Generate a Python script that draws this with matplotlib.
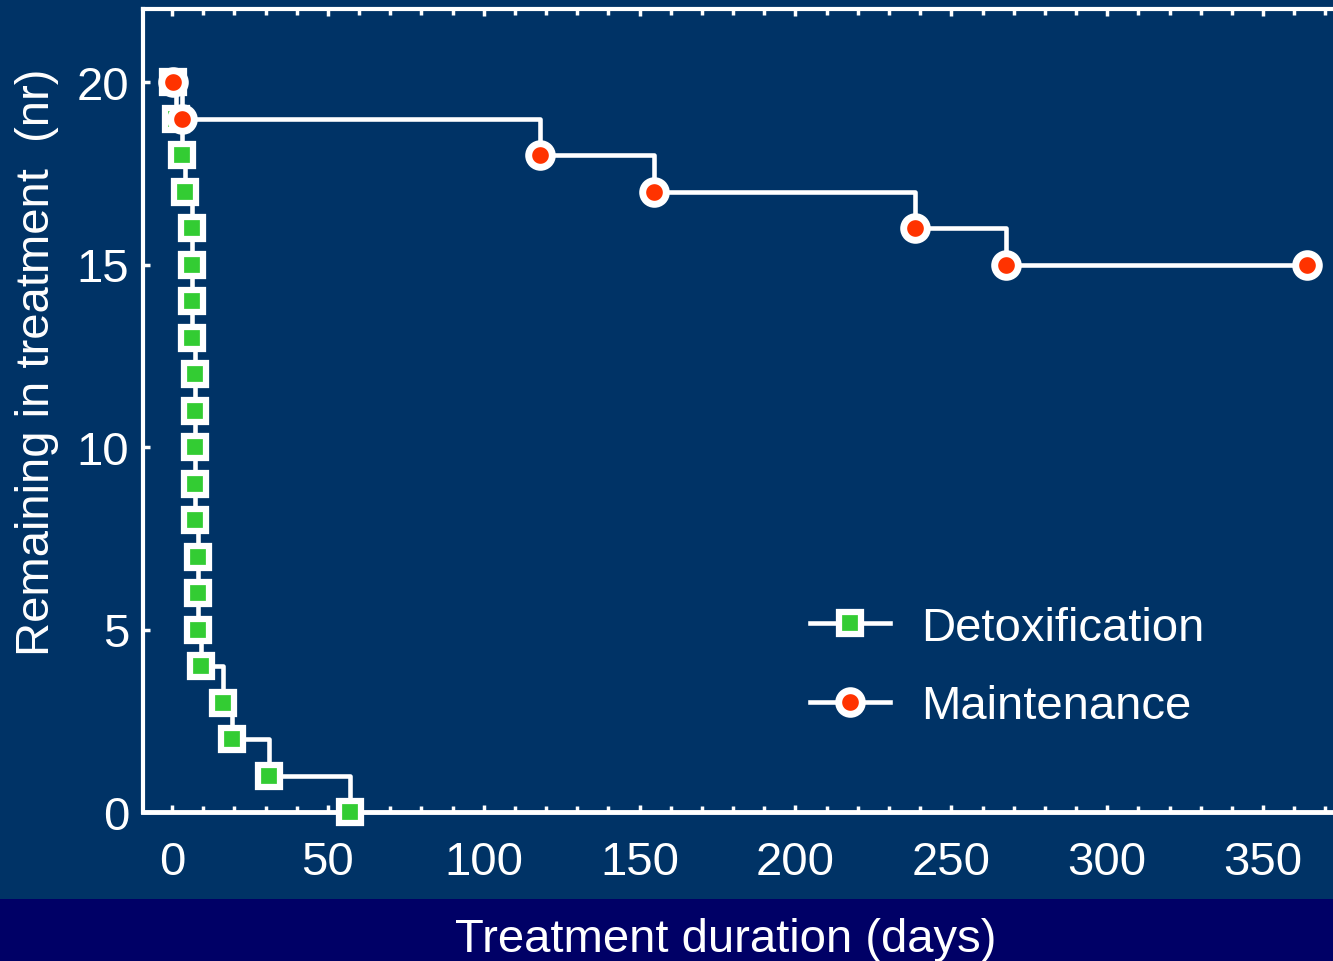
import matplotlib
matplotlib.use("Agg")
import matplotlib.pyplot as plt
from matplotlib.ticker import MultipleLocator
from matplotlib.patches import Rectangle

# ---- data ----
detox_days = [0.2, 1.2, 3.2, 4.2, 6.3, 6.3, 6.3, 6.3, 7.4, 7.4, 7.4, 7.4, 7.4,
              8.2, 8.2, 8.2, 9.2, 16.3, 19.2, 31.1, 57.1]
detox_remaining = [20, 19, 18, 17, 16, 15, 14, 13, 12, 11, 10, 9, 8,
                   7, 6, 5, 4, 3, 2, 1, 0]
maint_days = [0.2, 3.3, 118, 154.6, 238.4, 267.6, 364.1]
maint_remaining = [20, 19, 18, 17, 16, 15, 15]
x_ticks = [0, 50, 100, 150, 200, 250, 300, 350]
y_ticks = [0, 5, 10, 15, 20]
series_labels = ["Detoxification", "Maintenance"]

BG = "#003366"
BAND = "#000066"
GREEN = "#33CC33"
RED = "#FF3300"
W = 1333
H = 962

plt.rcParams['font.family'] = ['Liberation Sans', 'DejaVu Sans']

fig = plt.figure(figsize=(W / 100, H / 100), dpi=100)
fig.patch.set_facecolor(BG)
fig.patches.append(Rectangle((0, 0), 1, 62 / H, transform=fig.transFigure,
                             facecolor=BAND, edgecolor='none', zorder=0))

ax_left = 143 / W
ax_bottom = (H - 813) / H
ax_w = (1341 - 143) / W
ax_h = (813 - 10) / H
ax = fig.add_axes([ax_left, ax_bottom, ax_w, ax_h])
ax.set_facecolor(BG)
ax.set_xlim(-9.3, 375)
ax.set_ylim(0, 22)

ax.plot(detox_days, detox_remaining, drawstyle='steps-post', color='white', lw=3.3,
        marker='s', ms=16.5, mew=4.5, mfc=GREEN, mec='white', clip_on=False, zorder=3,
        label=series_labels[0])
ax.plot(maint_days, maint_remaining, drawstyle='steps-post', color='white', lw=3.3,
        marker='o', ms=17, mew=5, mfc=RED, mec='white', clip_on=False, zorder=4,
        label=series_labels[1])

ax.spines['right'].set_visible(False)
for s in ['left', 'top']:
    ax.spines[s].set_color('white')
    ax.spines[s].set_linewidth(3)
ax.spines['bottom'].set_color('white')
ax.spines['bottom'].set_linewidth(3.5)

ax.set_xticks(x_ticks)
ax.set_yticks(y_ticks)
ax.xaxis.set_minor_locator(MultipleLocator(10))
ax.tick_params(axis='both', which='both', direction='in', colors='white',
               labelcolor='white', labelsize=34, width=2.5, top=True, right=False)
ax.tick_params(axis='both', which='major', length=5)
ax.tick_params(axis='both', which='minor', length=4)
ax.tick_params(axis='x', pad=20)
ax.tick_params(axis='y', pad=10)

fig.text(37 / W, 1 - 362 / H, "Remaining in treatment  (nr)", rotation=90,
         color='white', fontsize=34, ha='center', va='center')
fig.text(726 / W, 1 - 940 / H, "Treatment duration (days)",
         color='white', fontsize=34, ha='center', va='center')

leg = ax.legend(loc='center left', bbox_to_anchor=(810 / W, 1 - 668 / H),
                bbox_transform=fig.transFigure, frameon=False, fontsize=34,
                handlelength=1.7, handletextpad=0.66, labelspacing=0.74,
                borderpad=0, borderaxespad=0)
for t in leg.get_texts():
    t.set_color('white')

fig.savefig("out.png", dpi=100, facecolor=fig.get_facecolor())
